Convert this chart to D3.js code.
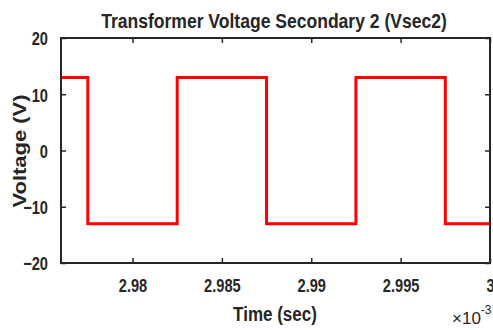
<!DOCTYPE html>
<html>
<head>
<meta charset="utf-8">
<script src="https://cdn.jsdelivr.net/npm/d3@7"></script>
<style>
    body { margin: 0; background: #fff; }
    text { font-family: "Liberation Sans", Arial, sans-serif; font-weight: bold; fill: #262626; }
</style>
</head>
<body>
<script>
const WIDTH = 493;
const HEIGHT = 330;
const MARGIN = {top: 38, right: 3, bottom: 67, left: 61};

// time in ms (axis shows x10^-3 s), secondary voltage in V
var timeMs = [2.976, 2.9775, 2.9825, 2.9875, 2.9925, 2.9975, 3.0];
var vsec2 = [13, -13, 13, -13, 13, -13, -13];
var xTicks = [2.98, 2.985, 2.99, 2.995, 3];
var yTicks = [-20, -10, 0, 10, 20];

// MATLAB draws its labels narrower than the stock font
var squeeze = function (sel, k) {
    sel.each(function () {
        var w = this.getComputedTextLength();
        d3.select(this)
            .attr('textLength', w * k)
            .attr('lengthAdjust', 'spacingAndGlyphs');
    });
};

var svg = d3.select('body').append('svg')
    .attr('width', WIDTH)
    .attr('height', HEIGHT);

var w = WIDTH - MARGIN.left - MARGIN.right;
var h = HEIGHT - MARGIN.top - MARGIN.bottom;

var xScale = d3.scaleLinear()
    .domain([2.976, 3])
    .range([0, w]);
var yScale = d3.scaleLinear()
    .domain([-20, 20])
    .range([h, 0]);

var g = svg.append('g')
    .attr('transform', 'translate(' + MARGIN.left + ',' + MARGIN.top + ')');

g.append('clipPath')
    .attr('id', 'plotClip')
    .append('rect')
    .attr('width', w)
    .attr('height', h);

var line = d3.line()
    .x(function (d, i) { return xScale(timeMs[i]); })
    .y(function (d) { return yScale(d); })
    .curve(d3.curveStepAfter);

g.append('path')
    .attr('clip-path', 'url(#plotClip)')
    .attr('d', line(vsec2))
    .attr('fill', 'none')
    .attr('stroke', '#ff0000')
    .attr('stroke-width', 3);

var fmtX = function (d) { return d3.format('~g')(d); };

var styleAxis = function (a) {
    a.select('.domain').remove();
    a.selectAll('line').attr('stroke', '#262626').attr('stroke-width', 1.5);
};

var bottomAxis = g.append('g')
    .attr('transform', 'translate(0,' + h + ')')
    .call(d3.axisBottom(xScale).tickValues(xTicks).tickSize(-5).tickPadding(16).tickFormat(fmtX));
bottomAxis.call(styleAxis);
bottomAxis.selectAll('text')
    .attr('font-size', 19)
    .style('font-family', '"Liberation Sans", Arial, sans-serif')
    .style('font-weight', 'bold')
    .call(squeeze, 0.77);

g.append('g')
    .call(d3.axisTop(xScale).tickValues(xTicks).tickSize(-5).tickFormat(''))
    .call(styleAxis);

var leftAxis = g.append('g')
    .call(d3.axisLeft(yScale).tickValues(yTicks).tickSize(-5).tickPadding(13));
leftAxis.call(styleAxis);
leftAxis.selectAll('text')
    .attr('font-size', 19)
    .attr('dy', '0.36em')
    .style('font-family', '"Liberation Sans", Arial, sans-serif')
    .style('font-weight', 'bold')
    .call(squeeze, 0.77);

g.append('g')
    .attr('transform', 'translate(' + w + ',0)')
    .call(d3.axisRight(yScale).tickValues(yTicks).tickSize(-5).tickFormat(''))
    .call(styleAxis);

// box
g.append('rect')
    .attr('width', w)
    .attr('height', h)
    .attr('fill', 'none')
    .attr('stroke', '#262626')
    .attr('stroke-width', 2);

svg.append('text')
    .attr('x', 274)
    .attr('y', 28)
    .attr('text-anchor', 'middle')
    .attr('font-size', 21)
    .text('Transformer Voltage Secondary 2 (Vsec2)')
    .call(squeeze, 0.835);

svg.append('text')
    .attr('x', 275)
    .attr('y', 321)
    .attr('text-anchor', 'middle')
    .attr('font-size', 20)
    .text('Time (sec)')
    .call(squeeze, 0.85);

svg.append('text')
    .attr('transform', 'translate(26,151) rotate(-90)')
    .attr('text-anchor', 'middle')
    .attr('font-size', 19)
    .text('Voltage (V)')
    .attr('textLength', 113)
    .attr('lengthAdjust', 'spacingAndGlyphs');

var expo = svg.append('text')
    .attr('x', 452)
    .attr('y', 324)
    .attr('font-size', 17)
    .style('font-weight', 'normal');
expo.append('tspan').text('\u00d710');
expo.append('tspan')
    .attr('dy', -10)
    .attr('font-size', 12)
    .text('-3');
</script>
</body>
</html>
